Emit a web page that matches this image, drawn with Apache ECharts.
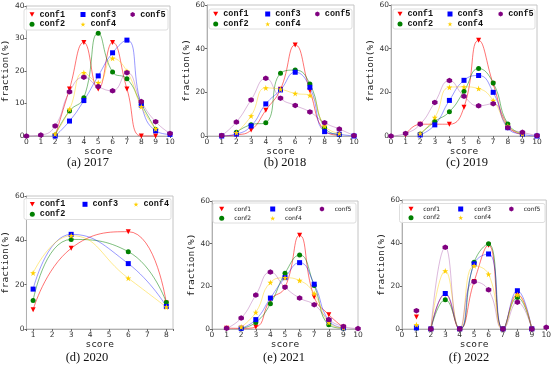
<!DOCTYPE html>
<html><head><meta charset="utf-8">
<script src="https://cdn.jsdelivr.net/npm/echarts@6.0.0/dist/echarts.min.js"></script>
<style>html,body{margin:0;padding:0;background:#fff}#c{width:554px;height:367px}</style>
</head><body><div id="c"></div>
<script>
// ---------- data ----------
const confNames = ['conf1', 'conf2', 'conf3', 'conf4', 'conf5'];
const scores = [0, 1, 2, 3, 4, 5, 6, 7, 8, 9, 10];
const scores2020 = [1, 3, 6, 8];

const y2017_conf1 = [null, null, 0, 14.5, 28.8, 14.5, 28.8, 14.5, 0, 0, null];
const y2017_conf2 = [null, null, 0.3, 7.7, 11.8, 31.6, 19.7, 17.6, 9.8, 2.0, null];
const y2017_conf3 = [null, null, 0, 4.6, 10.9, 18.5, 25.6, 29.5, 9.5, 1.6, 0.5];
const y2017_conf4 = [null, null, 0.6, 8.2, 19.5, 16.4, 23.9, 19.9, 9.0, 2.2, null];
const y2017_conf5 = [0, 0.3, 3.1, 13.6, 18.1, 15.2, 13.9, 19.5, 10.6, 4.4, 0.8];

const y2018_conf1 = [null, 0, 0.5, 2.7, 11.8, 21.4, 41.7, 20.8, 2.4, 0.3, null];
const y2018_conf2 = [null, null, 1.7, 5.2, 6.1, 28.7, 30.2, 23.8, 3.8, 0.6, null];
const y2018_conf3 = [null, 0, 0.9, 4.6, 14.7, 21.1, 29.2, 22.3, 2.0, 0.8, 0];
const y2018_conf4 = [null, null, 1.5, 9.2, 22.0, 21.4, 19.5, 18.6, 4.6, 1.2, null];
const y2018_conf5 = [null, 0.2, 6.4, 16.5, 26.4, 17.3, 14.0, 11.0, 6.1, 3.2, 0.2];

const y2019_conf1 = [null, 0.6, 5.4, 5.4, 5.4, 13.2, 43.8, 23.8, 4.6, 0.6, null];
const y2019_conf2 = [null, null, 0.9, 6.6, 11.1, 20.5, 30.9, 24.3, 5.5, 0.9, null];
const y2019_conf3 = [null, null, 0.5, 5.1, 16.3, 25.5, 27.7, 20.0, 3.8, 0.8, 0];
const y2019_conf4 = [null, null, 1.2, 8.5, 22.3, 22.5, 21.7, 16.3, 4.6, 0.8, null];
const y2019_conf5 = [0, 1.2, 5.4, 15.4, 25.4, 18.2, 13.8, 14.8, 3.8, 1.7, 0.2];

const y2020_conf1 = [8.7, 36.4, 43.9, 11.7];
const y2020_conf2 = [12.9, 40.4, 34.9, 12.0];
const y2020_conf3 = [18.0, 42.7, 29.5, 10.2];
const y2020_conf4 = [25.3, 42.1, 22.9, 9.9];

const y2021_conf1 = [null, 0.4, 0.3, 0.9, 13.7, 19.5, 43.9, 15.0, 6.7, 0.8, null];
const y2021_conf2 = [null, null, 0.3, 3.1, 11.8, 26.1, 34.7, 20.4, 2.0, 0.3, null];
const y2021_conf3 = [null, null, 0.3, 4.4, 14.5, 24.1, 31.1, 21.0, 3.9, 0.5, null];
const y2021_conf4 = [null, null, 0.9, 7.8, 21.8, 24.0, 22.7, 16.6, 3.0, 0.5, null];
const y2021_conf5 = [null, 0.3, 5.1, 15.9, 26.7, 19.6, 14.5, 11.4, 4.4, 1.2, 0.2];

const y2022_conf1 = [null, 5.6, 0, 16.2, 0, 22.1, 39.0, 0, 16.2, 0, null];
const y2022_conf2 = [null, 0.5, 0, 13.6, 0, 31.0, 39.6, 0, 14.7, 0, null];
const y2022_conf3 = [null, 0.5, 0, 16.5, 0, 30.3, 34.9, 0, 17.8, 0, null];
const y2022_conf4 = [null, 2.0, 0, 27.0, 0, 29.4, 25.5, 0, 15.9, 0, null];
const y2022_conf5 = [null, 8.5, 0, 38.0, 0, 22.0, 18.2, 0, 12.5, 0, 0.8];

const panelTitles = ['(a) 2017', '(b) 2018', '(c) 2019', '(d) 2020', '(e) 2021', '(f) 2022'];
const yTickMax = [40, 60, 60, 60, 60, 60];
const yTickStep = [10, 20, 20, 20, 20, 20];

// ---------- styles ----------
const markerColors = { conf1: '#ff0000', conf2: '#008000', conf3: '#0000ff', conf4: '#ffd000', conf5: '#800080' };
const lineOpacity = { conf1: 0.55, conf2: 0.5, conf3: 0.4, conf4: 0.45, conf5: 0.28 };
const markerIcons = {
  conf1: 'path://M0,0L10,0L5,9Z',
  conf2: 'circle',
  conf3: 'rect',
  conf4: 'path://M5,0L6.2,3.6L10,3.6L6.9,5.9L8.1,9.5L5,7.3L1.9,9.5L3.1,5.9L0,3.6L3.8,3.6Z',
  conf5: 'path://M5,0L9.33,2.5L9.33,7.5L5,10L0.67,7.5L0.67,2.5Z'
};
const markerSize = { conf1: 5, conf2: 5, conf3: 5, conf4: 6, conf5: 5.5 };

const panels = [
  { xs: scores, ys: { conf1: y2017_conf1, conf2: y2017_conf2, conf3: y2017_conf3, conf4: y2017_conf4, conf5: y2017_conf5 },
    grid: { left: 23, top: 6, width: 147, height: 130 }, xr: [0, 10], yNameGap: 11, xNameGap: 9, titlePos: [88, 163],
    legendFont: 'mono', legendBox: [24, 9, 144, 21], legendCols: [32, 83, 133], legendText: [38, 88, 138], legendRows: [14.5, 24.3],
    legendOrder: [['conf1', 'conf3', 'conf5'], ['conf2', 'conf4']] },
  { xs: scores, ys: { conf1: y2018_conf1, conf2: y2018_conf2, conf3: y2018_conf3, conf4: y2018_conf4, conf5: y2018_conf5 },
    grid: { left: 207, top: 5, width: 147, height: 131 }, xr: [0, 10], yNameGap: 12, xNameGap: 9, titlePos: [285, 163],
    legendFont: 'mono', legendBox: [209, 9, 143, 20], legendCols: [215.7, 267.7, 317.7], legendText: [221, 272.3, 322.3], legendRows: [14, 24],
    legendOrder: [['conf1', 'conf3', 'conf5'], ['conf2', 'conf4']] },
  { xs: scores, ys: { conf1: y2019_conf1, conf2: y2019_conf2, conf3: y2019_conf3, conf4: y2019_conf4, conf5: y2019_conf5 },
    grid: { left: 391, top: 5, width: 146, height: 131 }, xr: [0, 10], yNameGap: 11, xNameGap: 9, titlePos: [467, 163],
    legendFont: 'mono', legendBox: [393, 9, 142, 20], legendCols: [400, 450, 501], legendText: [405, 456, 506], legendRows: [14, 24],
    legendOrder: [['conf1', 'conf3', 'conf5'], ['conf2', 'conf4']] },
  { xs: scores2020, ys: { conf1: y2020_conf1, conf2: y2020_conf2, conf3: y2020_conf3, conf4: y2020_conf4 },
    grid: { left: 23, top: 196, width: 150, height: 133 }, xr: [0.65, 8.35], yNameGap: 12, xNameGap: 9, titlePos: [87, 358],
    legendFont: 'mono', legendBox: [24, 198.5, 147, 21], legendCols: [32.3, 85, 136], legendText: [37.7, 90, 141.7], legendRows: [204.3, 214.3],
    legendOrder: [['conf1', 'conf3', 'conf4'], ['conf2']] },
  { xs: scores, ys: { conf1: y2021_conf1, conf2: y2021_conf2, conf3: y2021_conf3, conf4: y2021_conf4, conf5: y2021_conf5 },
    grid: { left: 212, top: 201, width: 146, height: 128 }, xr: [0, 10], yNameGap: 10, xNameGap: 10, titlePos: [284, 358],
    legendFont: 'sans', legendBox: [213, 203, 143, 20], legendCols: [221.7, 272.7, 322.3], legendText: [234.3, 285, 335], legendRows: [209, 218.3],
    legendOrder: [['conf1', 'conf3', 'conf5'], ['conf2', 'conf4']] },
  { xs: scores, ys: { conf1: y2022_conf1, conf2: y2022_conf2, conf3: y2022_conf3, conf4: y2022_conf4, conf5: y2022_conf5 },
    grid: { left: 402, top: 200, width: 146, height: 129 }, xr: [0, 10], yNameGap: 13, xNameGap: 10, titlePos: [469, 358],
    lineRange: [2, 9],
    legendFont: 'sans', legendBox: [399.5, 203.5, 145.5, 19], legendCols: [411, 460.7, 511.7], legendText: [423.3, 474.3, 524], legendRows: [209, 217.7],
    legendOrder: [['conf1', 'conf3', 'conf5'], ['conf2', 'conf4']] }
];

const legendFonts = {
  mono: { fontFamily: 'Liberation Mono', fontSize: 8.5, fontWeight: 'bold', color: '#111' },
  sans: { fontFamily: 'DejaVu Sans', fontSize: 6, color: '#222' }
};

// ---------- build option ----------
const grids = [], xAxes = [], yAxes = [], series = [], legends = [], graphics = [];
const axisFont = { fontFamily: 'DejaVu Sans', fontSize: 7.5, color: '#333' };
const nameFont = { fontFamily: 'DejaVu Sans Mono', fontSize: 9.5, color: '#222' };

panels.forEach((p, i) => {
  grids.push(Object.assign({ show: true, borderColor: '#c4c4c4', borderWidth: 1, backgroundColor: 'transparent' }, p.grid));
  xAxes.push({
    type: 'value', gridIndex: i, min: p.xr[0], max: p.xr[1],
    splitNumber: i === 3 ? 8 : 10, interval: i === 3 ? undefined : 1,
    name: 'score', nameLocation: 'middle', nameGap: p.xNameGap, nameTextStyle: nameFont,
    axisLine: { show: true, lineStyle: { color: '#b0b0b0', width: 1 } },
    axisTick: { show: true, length: 2, lineStyle: { color: '#666' } },
    axisLabel: Object.assign({ margin: 2, formatter: v => (Math.abs(v - Math.round(v)) < 1e-6 ? String(Math.round(v)) : '') }, axisFont),
    splitLine: { show: false }
  });
  yAxes.push({
    type: 'value', gridIndex: i, min: 0, max: yTickMax[i], interval: yTickStep[i],
    name: 'fraction(%)', nameLocation: 'middle', nameGap: p.yNameGap, nameRotate: 90, nameTextStyle: nameFont,
    axisLine: { show: true, lineStyle: { color: '#b0b0b0', width: 1 } },
    axisTick: { show: true, length: 2, lineStyle: { color: '#666' } },
    axisLabel: Object.assign({ margin: 2 }, axisFont),
    splitLine: { show: false }
  });
  const names = Object.keys(p.ys);
  names.forEach(n => {
    const pts = [];
    p.xs.forEach((x, k) => { const v = p.ys[n][k]; if (v !== null && v !== undefined) pts.push([x, v]); });
    const linePts = p.lineRange ? pts.filter(d => d[0] >= p.lineRange[0] && d[0] <= p.lineRange[1]) : pts;
    series.push({
      type: 'line', name: n + '-curve', xAxisIndex: i, yAxisIndex: i, data: linePts,
      smooth: 0.5, showSymbol: false, symbol: 'none', z: 2,
      lineStyle: { color: markerColors[n], width: 1, opacity: lineOpacity[n] }, silent: true
    });
    series.push({
      type: 'scatter', name: n, xAxisIndex: i, yAxisIndex: i, data: pts, z: 3,
      symbol: markerIcons[n], symbolSize: markerSize[n],
      itemStyle: { color: markerColors[n], opacity: 1 }, silent: true
    });
  });
  // legend frame
  const b = p.legendBox;
  graphics.push({ type: 'rect', shape: { x: b[0], y: b[1], width: b[2], height: b[3], r: 2 },
    style: { fill: 'rgba(255,255,255,0.85)', stroke: '#dedede', lineWidth: 1 }, z: 50 });
  const lf = legendFonts[p.legendFont];
  p.legendOrder.forEach((row, r) => {
    row.forEach((n, c) => {
      const mx = p.legendCols[c], tx = p.legendText[c], ry = p.legendRows[r];
      const iw = 5;
      const pad = Math.max(0, (tx - mx) - (iw / 2 + 5));
      legends.push({
        left: mx - iw / 2, top: ry - 5, padding: 0, itemWidth: iw, itemHeight: iw, z: 60,
        selectedMode: false, data: [{ name: n, icon: markerIcons[n] }],
        itemStyle: { color: markerColors[n] },
        textStyle: Object.assign({ padding: [0, 0, 0, pad], lineHeight: 10 }, lf)
      });
    });
  });
  graphics.push({ type: 'text', x: p.titlePos[0], y: p.titlePos[1], z: 60,
    style: { text: panelTitles[i], fill: '#111', font: '12.5px "Liberation Serif"', align: 'center', verticalAlign: 'middle' } });
});

const chart = echarts.init(document.getElementById('c'), null, { renderer: 'canvas' });
chart.setOption({
  animation: false,
  backgroundColor: '#fff',
  grid: grids, xAxis: xAxes, yAxis: yAxes, series: series, legend: legends,
  graphic: { elements: graphics }
});
</script>
</body></html>
